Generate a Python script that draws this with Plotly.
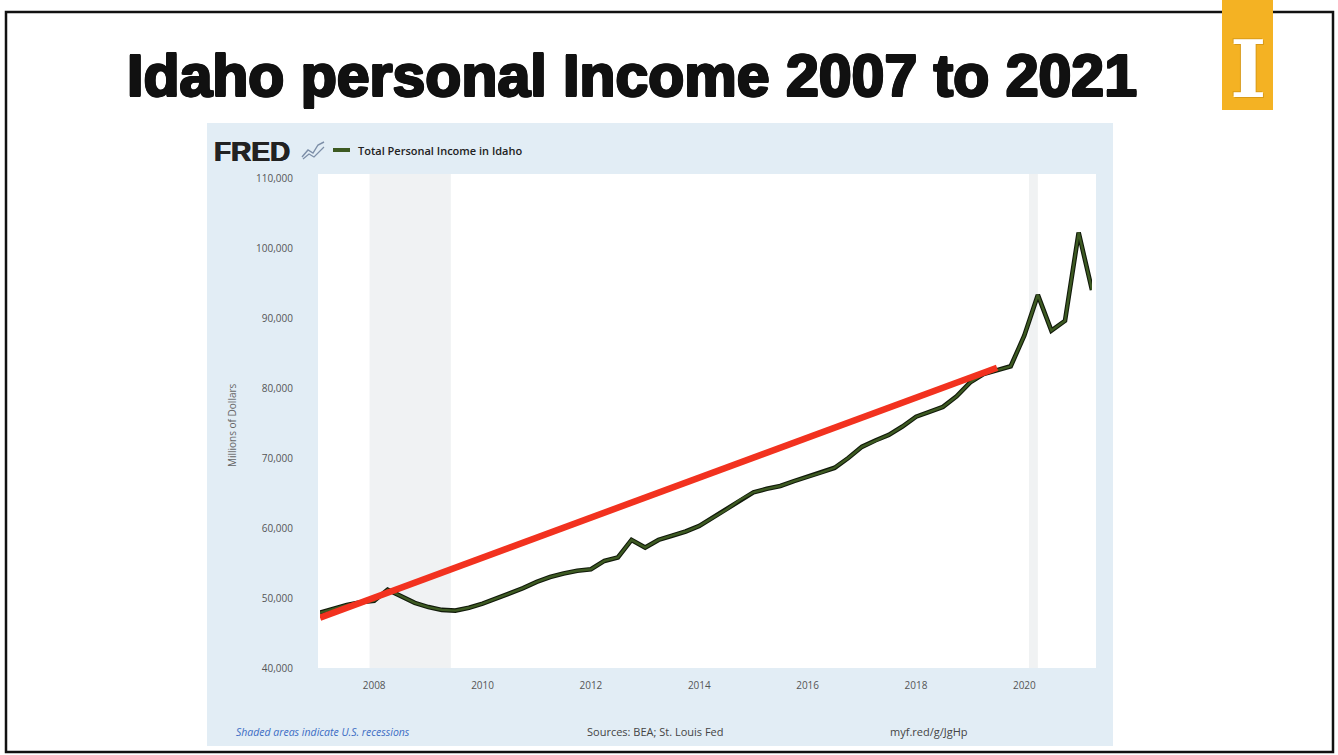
import pandas as pd
import plotly.graph_objects as go

# Total Personal Income in Idaho, quarterly, millions of dollars (SAAR)
quarters = pd.date_range("2007-01-01", periods=58, freq="QS")
income = [
    47900, 48500, 49000, 49400,   # 2007
    49600, 51200, 50200, 49300,   # 2008
    48700, 48300, 48200, 48600,   # 2009
    49200, 49900, 50600, 51400,   # 2010
    52300, 53000, 53500, 53900,   # 2011
    54100, 55300, 55800, 58300,   # 2012
    57200, 58300, 58900, 59500,   # 2013
    60300, 61500, 62600, 64000,   # 2014
    65100, 65600, 66000, 66700,   # 2015
    67300, 67900, 68600, 70000,   # 2016
    71600, 72500, 73300, 74500,   # 2017
    75900, 76600, 77300, 78800,   # 2018
    80800, 82000, 82600, 83100,   # 2019
    87500, 93300, 88200, 89600,   # 2020
    102200, 94000,                # 2021
]

# Straight-line trend drawn over the series
trend_dates = ["2007-01-01", "2019-07-01"]
trend_values = [47200, 82900]

# NBER recession periods
recessions = [("2007-12-01", "2009-06-01"), ("2020-02-01", "2020-04-01")]

y_ticks = [40000, 50000, 60000, 70000, 80000, 90000, 100000, 110000]

W, H = 1338, 755
L, R, T, B = 320, 246, 178, 87
PW, PH = W - L - R, H - T - B


def px(x):
    return (x - L) / PW


def py(y):
    return (H - B - y) / PH


fig = go.Figure()

# dark outline under the series line
fig.add_trace(go.Scatter(
    x=quarters, y=income, mode="lines",
    line=dict(color="#111a0a", width=4.6), hoverinfo="skip", showlegend=False,
))
fig.add_trace(go.Scatter(
    x=quarters, y=income, mode="lines", name="Total Personal Income in Idaho",
    line=dict(color="#3d5a22", width=2.4), showlegend=False,
))
fig.add_trace(go.Scatter(
    x=trend_dates, y=trend_values, mode="lines",
    line=dict(color="#f2321f", width=6.5), showlegend=False,
))

shapes = []
# light blue chart panel and white plotting area
shapes.append(dict(type="rect", xref="paper", yref="paper",
                   x0=px(207), x1=px(1113), y0=py(746), y1=py(123),
                   fillcolor="#e2edf5", line=dict(width=0), layer="below"))
shapes.append(dict(type="rect", xref="paper", yref="paper",
                   x0=px(318), x1=px(1096), y0=0, y1=py(174),
                   fillcolor="#ffffff", line=dict(width=0), layer="below"))
for start, end in recessions:
    shapes.append(dict(type="rect", xref="x", yref="paper",
                       x0=start, x1=end, y0=0, y1=py(174),
                       fillcolor="#f0f2f3", line=dict(width=0), layer="below"))

# slide frame
shapes.append(dict(type="rect", xref="paper", yref="paper",
                   x0=px(6), x1=px(1333), y0=py(752), y1=py(12),
                   line=dict(color="#111111", width=2.5), layer="above"))
# gold block for the "I" mark
shapes.append(dict(type="rect", xref="paper", yref="paper",
                   x0=px(1222), x1=px(1273), y0=py(110), y1=py(0),
                   fillcolor="#f4b223", line=dict(width=0), layer="above"))
# legend swatch
shapes.append(dict(type="line", xref="paper", yref="paper",
                   x0=px(333), x1=px(350), y0=py(150), y1=py(150),
                   line=dict(color="#3d5a22", width=4)))
# small chart glyph beside the FRED wordmark
shapes.append(dict(type="path", xref="paper", yref="paper",
                   path="M {} {} L {} {} L {} {} L {} {} L {} {}".format(
                       px(302), py(157), px(308), py(150), px(313), py(153),
                       px(318), py(145), px(324), py(142)),
                   line=dict(color="#7d8fa8", width=1.4)))
shapes.append(dict(type="path", xref="paper", yref="paper",
                   path="M {} {} L {} {} L {} {} L {} {}".format(
                       px(303), py(159), px(309), py(154), px(314), py(157),
                       px(324), py(147)),
                   line=dict(color="#7d8fa8", width=1.2)))

heavy = ("1.2px 0px 0px #111, -1.2px 0px 0px #111, 0px 1.2px 0px #111, "
         "0px -1.2px 0px #111, 1px 1px 0px #111, -1px -1px 0px #111, "
         "1px -1px 0px #111, -1px 1px 0px #111")

annotations = []
annotations.append(dict(
    text="Idaho personal Income 2007 to 2021", xref="paper", yref="paper",
    x=px(632), y=py(76), xanchor="center", yanchor="middle", showarrow=False,
    font=dict(family="Liberation Sans", size=59, color="#111111", weight="bold",
              shadow=heavy),
))
annotations.append(dict(
    text="I", xref="paper", yref="paper", x=px(1248), y=py(69),
    xanchor="center", yanchor="middle", showarrow=False,
    font=dict(family="DejaVu Serif", size=78, color="#ffffff", weight="bold",
              shadow="1px 1px 0px #d89a18, -1px -1px 0px #d89a18"),
))
annotations.append(dict(
    text="FRED", xref="paper", yref="paper", x=px(212), y=py(151),
    xanchor="left", yanchor="middle", showarrow=False,
    font=dict(family="Liberation Sans", size=28, color="#222222", weight="bold",
              shadow="0.6px 0px 0px #222, -0.6px 0px 0px #222"),
))
annotations.append(dict(
    text="Total Personal Income in Idaho", xref="paper", yref="paper",
    x=px(356), y=py(150), xanchor="left", yanchor="middle", showarrow=False,
    font=dict(family="Open Sans", size=11, color="#222222", weight=600),
))
annotations.append(dict(
    text="Millions of Dollars", xref="paper", yref="paper",
    x=px(232), y=py(425), xanchor="center", yanchor="middle", showarrow=False,
    textangle=-90, font=dict(family="Open Sans", size=10, color="#666666"),
))
annotations.append(dict(
    text="<i>Shaded areas indicate U.S. recessions</i>", xref="paper", yref="paper",
    x=px(234), y=py(732), xanchor="left", yanchor="middle", showarrow=False,
    font=dict(family="Open Sans", size=10.5, color="#3b6cc4"),
))
annotations.append(dict(
    text="Sources: BEA; St. Louis Fed", xref="paper", yref="paper",
    x=px(585), y=py(731), xanchor="left", yanchor="middle", showarrow=False,
    font=dict(family="Open Sans", size=11, color="#444444"),
))
annotations.append(dict(
    text="myf.red/g/JgHp", xref="paper", yref="paper",
    x=px(888), y=py(731), xanchor="left", yanchor="middle", showarrow=False,
    font=dict(family="Open Sans", size=11, color="#444444"),
))

fig.update_layout(
    width=W, height=H, autosize=False,
    margin=dict(l=L, r=R, t=T, b=B, pad=0),
    paper_bgcolor="#ffffff", plot_bgcolor="#ffffff",
    shapes=shapes, annotations=annotations,
    showlegend=False,
    xaxis=dict(
        type="date", range=["2007-01-01", "2021-04-01"],
        tick0="2008-01-01", dtick="M24", tickformat="%Y",
        showgrid=False, zeroline=False, showline=False, ticks="",
        tickfont=dict(family="Open Sans", size=10, color="#555555"),
        ticklabelstandoff=10,
    ),
    yaxis=dict(
        range=[40000, 110000], tickvals=y_ticks, tickformat=",",
        showgrid=False, zeroline=False, showline=False, ticks="",
        tickfont=dict(family="Open Sans", size=10, color="#555555"),
        ticklabelstandoff=26,
    ),
)

fig.write_html("out.html")
